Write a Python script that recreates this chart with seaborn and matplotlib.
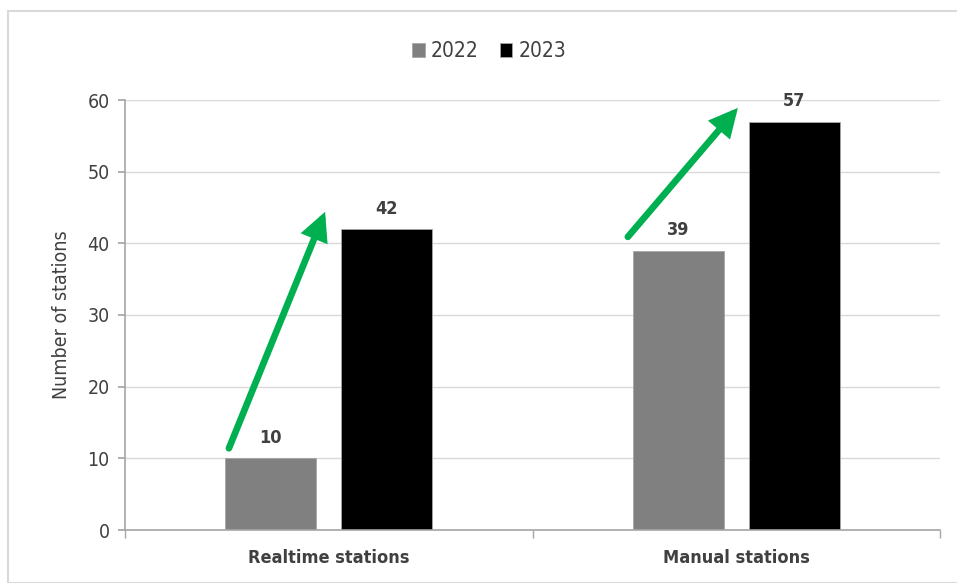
import matplotlib
matplotlib.use("Agg")
import matplotlib.pyplot as plt
import seaborn as sns
import pandas as pd
from matplotlib.patches import Rectangle

categories = ["Realtime stations", "Manual stations"]
years = ["2022", "2023"]
values_2022 = [10, 39]
values_2023 = [42, 57]
y_ticks = [0, 10, 20, 30, 40, 50, 60]
y_label = "Number of stations"
# arrow annotations (category-index x, value y): start -> end
arrow_starts = [(-0.245, 11.4), (0.734, 40.9)]
arrow_ends = [(-0.009, 44.4), (1.004, 58.9)]

sns.set_theme(style="white")
plt.rcParams['font.family'] = ['DejaVu Sans']
plt.rcParams['font.stretch'] = 'condensed'
txt = "#404040"

df = pd.DataFrame({
    "category": categories * 2,
    "year": [years[0]] * 2 + [years[1]] * 2,
    "value": values_2022 + values_2023,
})

fig = plt.figure(figsize=(9.57, 5.83), dpi=100)
fig.patches.append(Rectangle((8/957, 0), 1.0, 1 - 11/583, transform=fig.transFigure,
                             fill=False, edgecolor="#d9d9d9", linewidth=1.5))
ax = fig.add_axes([125/957, 53/583, 815/957, 430/583])

sns.barplot(data=df, x="category", y="value", hue="year", order=categories,
            hue_order=years, palette={"2022": "#808080", "2023": "#000000"},
            width=0.57, gap=0.215, ax=ax, edgecolor="#a6a6a6", linewidth=0.6,
            legend=True)

for cont in ax.containers:
    ax.bar_label(cont, padding=8, fontsize=13, color=txt, fontweight="semibold")

ax.set_xlim(-0.5, 1.5)
ax.set_ylim(0, 60)
ax.set_yticks(y_ticks)
ax.set_yticklabels([str(t) for t in y_ticks], fontsize=14, color=txt)
ax.set_xlabel("")
ax.set_ylabel(y_label, fontsize=14, color=txt, labelpad=12)
ax.tick_params(axis="x", labelsize=13, colors=txt, pad=14, length=0)
for lab in ax.get_xticklabels():
    lab.set_fontweight("semibold")
ax.yaxis.grid(True, color="#d9d9d9", linewidth=1)
ax.set_axisbelow(True)
for s in ["top", "right"]:
    ax.spines[s].set_visible(False)
for s in ["left", "bottom"]:
    ax.spines[s].set_color("#a6a6a6")
    ax.spines[s].set_linewidth(1.2)
ax.tick_params(axis="y", which="major", length=5, color="#a6a6a6", direction="out", left=True, pad=6)
# category boundary ticks on x axis
ax.set_xticks([-0.5, 0.5, 1.5], minor=True)
ax.tick_params(axis="x", which="minor", length=6, color="#a6a6a6", direction="out", bottom=True)

for (x0, y0), (x1, y1) in zip(arrow_starts, arrow_ends):
    ax.annotate("", xy=(x1, y1), xytext=(x0, y0),
                arrowprops=dict(arrowstyle="-|>,head_length=1.1,head_width=0.55",
                                color="#00b050", lw=4.8, shrinkA=0, shrinkB=0,
                                joinstyle="miter"))

leg = ax.legend(loc="upper center", bbox_to_anchor=(0.447, 1.18), ncol=2, frameon=False,
                fontsize=15, handlelength=0.6, handleheight=0.6, handletextpad=0.3,
                columnspacing=1.0)
for t in leg.get_texts():
    t.set_color(txt)

fig.savefig("out.png", dpi=100)
